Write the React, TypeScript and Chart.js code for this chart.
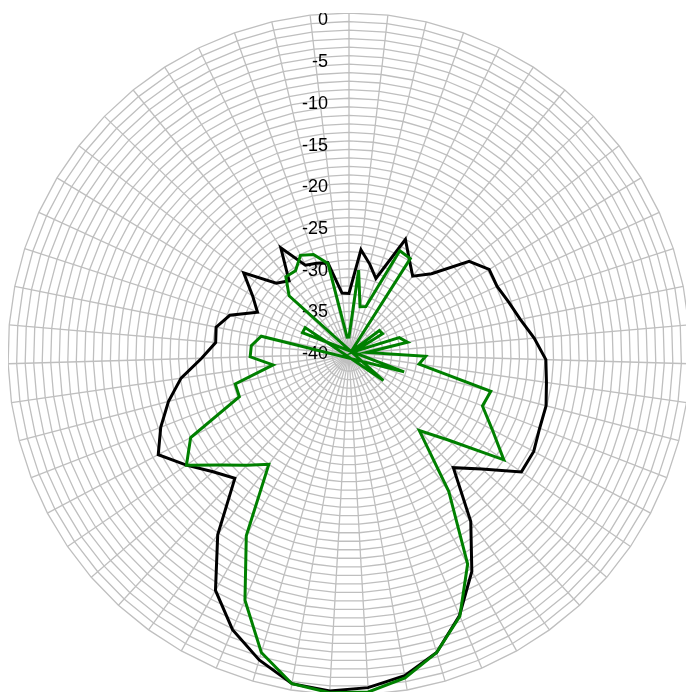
import React, { useEffect, useRef } from "react";
import { Chart, registerables } from "chart.js";

Chart.register(...registerables);

const categories = [
  "1", "2", "3", "4", "5", "6", "7", "8", "9", "10",
  "11", "12", "13", "14", "15", "16", "17", "18", "19", "20",
  "21", "22", "23", "24", "25", "26", "27", "28", "29", "30",
  "31", "32", "33", "34", "35", "36", "37", "38", "39", "40",
  "41", "42", "43", "44", "45", "46", "47", "48", "49", "50",
  "51", "52", "53", "54", "55",
];

const blackValues = [
  -32.9, -27.7, -29.2, -30.6, -25.0, -26.9, -28.2, -26.5, -22.2, -20.8,
  -20.9, -20.3, -19.5, -18.2, -16.9, -16.6, -16.1, -16.0, -15.5, -15.5,
  -19.4, -21.9, -15.7, -10.7, -6.7, -3.5, -1.7, -0.8, -0.4, -0.75,
  -2.6, -4.9, -8.15, -13.8, -20.2, -18.9, -16.9, -14.7, -16.3, -18.1,
  -20.1, -22.7, -24.3, -24.1, -25.3, -28.2, -26.8, -24.4, -28.1, -28.9,
  -25.2, -28.4, -28.7, -29.0, -32.8,
];

const greenValues = [
  -38.0, -30.1, -34.3, -34.1, -26.5, -26.7, -39.5, -39.5, -35.5, -35.4,
  -39.3, -33.8, -33.0, -37.9, -31.0, -31.7, -22.8, -23.2, -21.0, -18.0,
  -24.6, -27.8, -20.1, -11.7, -6.6, -3.5, -1.45, -0.3, -0.2, -0.75,
  -3.5, -8.65, -15.5, -24.0, -22.3, -20.1, -16.9, -19.0, -26.2, -26.2,
  -31.0, -28.4, -28.5, -29.5, -46.8, -34.0, -34.0, -45.1, -30.2, -28.3,
  -28.4, -27.1, -27.6, -29.1, -38.0,
];

const tickLabelValues = [0, -5, -10, -15, -20, -25, -30, -35, -40];

const axisMin = -40;
const axisMax = 0;

const tickLabelPlugin = {
  id: "tickLabelPlugin",
  beforeDatasetsDraw(chart: any) {
    const scale = chart.scales.r;
    const ctx = chart.ctx;
    ctx.save();
    ctx.font = '18px "Liberation Sans", Arial, sans-serif';
    ctx.fillStyle = "#000000";
    ctx.textAlign = "right";
    ctx.textBaseline = "middle";
    for (const v of tickLabelValues) {
      const d = scale.getDistanceFromCenterForValue(v);
      ctx.fillText(String(v), scale.xCenter - 21, scale.yCenter - d * 0.978);
    }
    ctx.restore();
  },
};

export default function App() {
  const canvasRef = useRef<HTMLCanvasElement | null>(null);

  useEffect(() => {
    if (!canvasRef.current) return;
    const chart = new Chart(canvasRef.current, {
      type: "radar",
      data: {
        labels: categories,
        datasets: [
          {
            label: "green",
            data: greenValues,
            borderColor: "#008000",
            borderWidth: 3,
            fill: false,
            pointRadius: 0,
            tension: 0,
          },
          {
            label: "black",
            data: blackValues,
            borderColor: "#000000",
            borderWidth: 3,
            fill: false,
            pointRadius: 0,
            tension: 0,
          },
        ],
      },
      options: {
        animation: false,
        responsive: true,
        maintainAspectRatio: false,
        plugins: {
          legend: { display: false },
          tooltip: { enabled: false },
        },
        elements: {
          line: { borderJoinStyle: "miter" },
        },
        scales: {
          r: {
            min: axisMin,
            max: axisMax,
            ticks: { stepSize: 1, display: false },
            grid: { color: "#bfbfbf", lineWidth: 1.3 },
            angleLines: { color: "#bfbfbf", lineWidth: 1.3 },
            pointLabels: { display: false },
          },
        },
      },
      plugins: [tickLabelPlugin],
    });
    return () => chart.destroy();
  }, []);

  return (
    <div
      style={{
        position: "fixed",
        left: 0,
        top: 0,
        width: 686,
        height: 692,
        overflow: "hidden",
        background: "#ffffff",
      }}
    >
      <div
        style={{
          position: "absolute",
          left: 8,
          top: 13,
          width: 683,
          height: 683,
        }}
      >
        <canvas ref={canvasRef} />
      </div>
    </div>
  );
}
